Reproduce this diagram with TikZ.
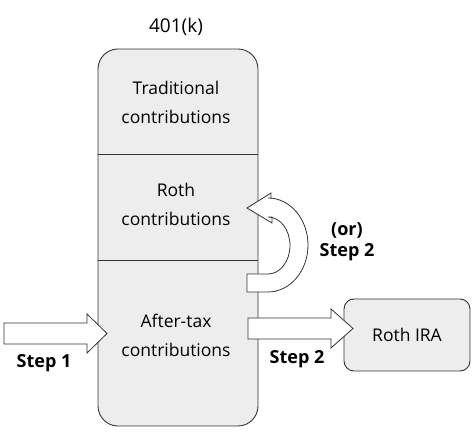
\documentclass[tikz,border=0pt]{standalone}
\usepackage{fontspec}
\setmainfont{Open Sans}
\begin{document}
\begin{tikzpicture}[x=1pt,y=1pt,
  box/.style={draw=black!80,line width=0.9pt,fill=black!7},
  lbl/.style={font=\fontsize{17.5}{29}\selectfont,align=center,text=black},
  steplbl/.style={font=\bfseries\fontsize{18}{21}\selectfont,align=center},
  fatarrow/.style={draw=black!80,line width=0.8pt,fill=white,line join=miter}]
\useasboundingbox (0,0) rectangle (474,436);
% main 401(k) box
\draw[box,rounded corners=20pt] (98,10) rectangle (258,387);
\draw[draw=black!80,line width=0.8pt] (98,282) -- (258,282);
\draw[draw=black!80,line width=0.8pt] (98,176) -- (258,176);
\node[lbl,font=\fontsize{19}{23}\selectfont] (title) at (176,409) {401(k)};
\node[lbl] (trad) at (176,334) {Traditional\\contributions};
\node[lbl] (roth) at (176,232) {Roth\\contributions};
\node[lbl] (after) at (176,101) {After-tax\\contributions};
% Roth IRA box
\node[box,rounded corners=10pt,minimum width=126pt,minimum height=72pt,lbl] (ira) at (407,101) {Roth IRA};
% Step 1 arrow
\draw[fatarrow] (4,92) -- (87,92) -- (87,83) -- (107,102.5) -- (87,122) -- (87,113) -- (4,113) -- cycle;
\node[steplbl] (s1) at (44,73) {Step 1};
% Step 2 arrow
\draw[fatarrow] (248,97) -- (331,97) -- (331,88) -- (353,107.5) -- (331,127) -- (331,118) -- (248,118) -- cycle;
\node[steplbl] (s2) at (297,77) {Step 2};
% U-turn arrow
\draw[fatarrow] (247,144) -- (268,144)
  arc[start angle=-90,end angle=90,x radius=40pt,y radius=47pt]
  -- (271,238) -- (271,243) -- (247,228) -- (272,213) -- (272,219) -- (268,219)
  arc[start angle=90,end angle=-90,x radius=22pt,y radius=28.5pt]
  -- (247,162) -- cycle;
\node[steplbl] (s2b) at (347,194) {(or)\\Step 2};
\end{tikzpicture}
\end{document}
